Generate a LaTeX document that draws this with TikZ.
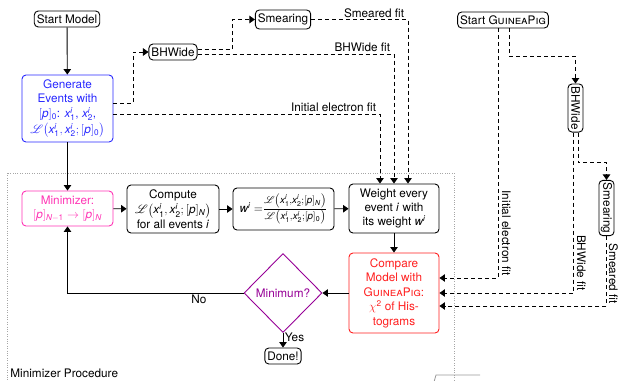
\documentclass[tikz,border=0pt]{standalone}
\usepackage{amsmath}
\usepackage{mathrsfs}
\usepackage{fontspec}
\setmainfont{TeX Gyre Heros}
\usetikzlibrary{arrows.meta,shapes.geometric,calc}
\definecolor{genblue}{RGB}{40,40,255}
\definecolor{minpink}{RGB}{255,51,180}
\definecolor{cmpred}{RGB}{255,30,30}
\definecolor{diapurple}{RGB}{150,0,150}
\newcommand{\xx}[1]{\textit{x}^{\textit{i}}_{\textup{#1}}}
\newcommand{\pp}{[\textit{p}]}
\begin{document}
\begin{tikzpicture}[x=1bp,y=-1bp,
  font=\fontsize{11.8}{14.5}\selectfont,
  >={Triangle[length=5.5bp,width=7.5bp]},
  line width=0.9bp,
  box/.style={draw, rounded corners=4bp, align=center, inner sep=1bp, line width=0.9bp},
  pill/.style={draw, rounded corners=4bp, inner xsep=2.5bp, inner ysep=1bp, minimum height=16bp},
  flow/.style={->},
  feed/.style={->, dash pattern=on 4bp off 3bp},
  lbl/.style={inner sep=1.5bp},
  vlbl/.style={rotate=-90, anchor=south east, inner xsep=2bp, inner ysep=3.5bp},
]
\useasboundingbox (0,0) rectangle (621,380);

% frame of the minimizer procedure
\draw[gray!70, dash pattern=on 0.8bp off 1.6bp, line width=0.7bp] (7,173) rectangle (454,400);
\node[anchor=west, inner sep=0pt] (proc) at (10,373) {Minimizer Procedure};
\draw[gray!80, line width=0.8bp] (434,382) -- (436,375) -- (480,375);

% nodes
\node[pill] (sm) at (67,19) {Start Model};
\node[box, draw=genblue, text=genblue, minimum width=91bp, minimum height=67bp] (gen) at (67.5,108.5)
  {Generate\\Events with\\[0.5bp]$\pp_{\textup{0}}$: $\xx1$, $\xx2$,\\[1.5bp]$\mathscr{L}\bigl(\xx1,\xx2;\pp_{\textup{0}}\bigr)$};
\node[box, draw=minpink, text=minpink, minimum width=91bp, minimum height=35bp] (min) at (67.5,208.5)
  {Minimizer:\\$\pp_{\textit{N}-\textup{1}}\rightarrow\pp_{\textit{N}}$};
\node[box, minimum width=92bp, minimum height=48bp] (comp) at (173,209)
  {Compute\\[1bp]$\mathscr{L}\bigl(\xx1,\xx2;\pp_{\textit{N}}\bigr)$\\for all events \textit{i}};
\node[box, minimum width=101bp, minimum height=42bp] (wb) at (283.5,209)
  {$\textit{w}^{\textit{i}}=${\fontsize{14}{16}\selectfont$\frac{\mathscr{L}\left(\xx1,\xx2;\pp_{\textit{N}}\right)}{\mathscr{L}\left(\xx1,\xx2;\pp_{\textup{0}}\right)}$}};
\node[box, minimum width=90bp, minimum height=49bp] (wt) at (394,208.5)
  {Weight every\\event \textit{i} with\\its weight $\textit{w}^{\textit{i}}$};
\node[box, draw=cmpred, text=cmpred, minimum width=90bp, minimum height=80bp] (cmp) at (394,293)
  {Compare\\Model with\\\textsc{GuineaPig}:\\$\chi^{\textup{2}}$ of His-\\tograms};
\node[diamond, draw=diapurple, text=diapurple, minimum width=78bp, minimum height=79bp, inner sep=0pt] (dia) at (283,293) {Minimum?};
\node[pill] (done) at (283,356) {Done!};
\node[pill] (bhw) at (173,52) {BHWide};
\node[pill, minimum height=19bp] (smr) at (283,19.5) {Smearing};
\node[pill] (sgp) at (503,20) {Start \textsc{GuineaPig}};
\node[pill, rotate=-90, minimum height=15bp] (bhw2) at (575.5,108) {BHWide};
\node[pill, rotate=-90, minimum height=15bp] (smr2) at (606.5,208) {Smearing};

% solid flow
\draw[flow] (sm) -- (gen);
\draw[flow] (gen) -- (min);
\draw[flow] (min) -- (comp);
\draw[flow] (comp) -- (wb);
\draw[flow] (wb) -- (wt);
\draw[flow] (wt) -- (cmp);
\draw[flow] (cmp) -- (dia);
\draw[flow] (dia) -- node[pos=0.3, anchor=west, lbl] {Yes} (done);
\draw[flow] (dia.west) -| node[pos=0.127, below, lbl] {No} (min.south);

% model side dashed
\draw[feed] ([yshift=5.5bp]gen.east) -- ++(20,0) |- (bhw.west);
\draw[feed] ([yshift=3bp]bhw.east) -- ++(35,0) |- (smr.west);
\draw[feed] ([yshift=-2bp]bhw.east) -| node[pos=0.5, anchor=south east, lbl, xshift=-2bp] {BHWide fit} (wt.north);
\draw[feed] (smr.east) -| node[pos=0.5, anchor=south east, lbl, xshift=-2bp] {Smeared fit} ([xshift=14bp]wt.north);
\draw[feed] ([yshift=-5.5bp]gen.east) -| node[pos=0.5, anchor=south east, lbl, xshift=-2bp] {Initial electron fit} ([xshift=-14bp]wt.north);

% GuineaPig side dashed
\draw[feed] ([xshift=-5bp]sgp.south) |- node[pos=0.5, vlbl] {Initial electron fit} ([yshift=15bp]cmp.east);
\draw[feed] ([xshift=6bp]sgp.south) -- ++(0,28) -| (bhw2.west);
\draw[feed] ([xshift=-2.5bp]bhw2.east) |- node[pos=0.5, vlbl] {BHWide fit} (cmp.east);
\draw[feed] ([xshift=2.5bp]bhw2.east) -- ++(0,30) -| (smr2.west);
\draw[feed] (smr2.east) |- node[pos=0.5, vlbl, inner ysep=2bp] {Smeared fit} ([yshift=-13bp]cmp.east);
\end{tikzpicture}
\end{document}
